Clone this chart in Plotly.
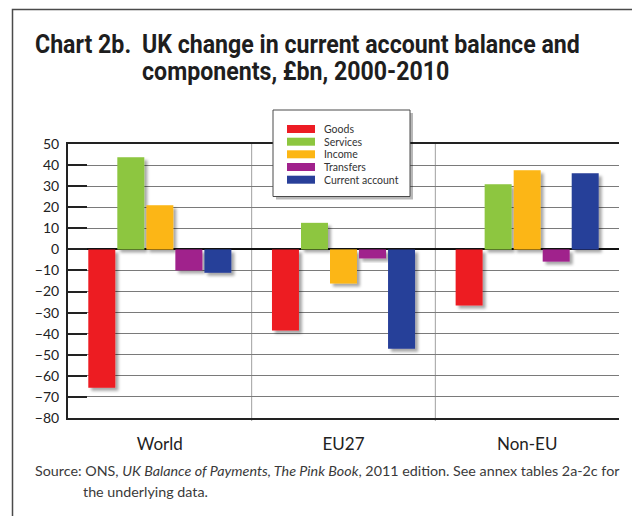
import plotly.graph_objects as go

# Regions and components of the UK current account, change 2000-2010 (£bn)
regions = ["World", "EU27", "Non-EU"]
components = ["Goods", "Services", "Income", "Transfers", "Current account"]
goods = [-65.6, -38.5, -26.6]
services = [43.7, 12.6, 30.9]
income = [20.9, -16.2, 37.5]
transfers = [-10.0, -4.3, -5.8]
current_account = [-11.1, -47.2, 36.1]
colors = ["#ED1C24", "#8DC63F", "#FCB614", "#A0218C", "#283F99"]
y_ticks = list(range(-80, 51, 10))

series = [goods, services, income, transfers, current_account]

W, H = 632, 516
ML, MR, MT, MB = 68, 13, 144, 98
PW, PH = W - ML - MR, H - MT - MB


def px(x):
    return (x - ML) / PW


def py(y):
    return (H - MB - y) / PH


fig = go.Figure()
for name, vals, col in zip(components, series, colors):
    fig.add_trace(go.Bar(x=regions, y=vals, name=name, marker=dict(color=col, line=dict(width=0)),
                         showlegend=False))

body_font = "Lato, 'Noto Sans', sans-serif"
title_font = "Roboto, 'Liberation Sans', sans-serif"

shapes = []
# outer frame of the chart panel
shapes.append(dict(type="rect", xref="paper", yref="paper", x0=px(12.5), x1=px(700), y0=py(600), y1=py(9.5),
                   line=dict(color="#4a4a4a", width=1.5), fillcolor="rgba(0,0,0,0)", layer="below"))
# separators between regions
for b in [0.5, 1.5]:
    shapes.append(dict(type="line", xref="x", yref="paper", x0=b, x1=b, y0=py(421), y1=1,
                       line=dict(color="#a0a0a0", width=1), layer="below"))

# legend box with a soft shadow
lx0, lx1, ly0, ly1 = 273, 410, 110, 196.5
shapes.append(dict(type="rect", xref="paper", yref="paper", x0=px(lx0 + 3), x1=px(lx1 + 3), y0=py(ly1 + 3),
                   y1=py(ly0 + 3), line=dict(width=0), fillcolor="rgba(0,0,0,0.28)", layer="above"))
shapes.append(dict(type="rect", xref="paper", yref="paper", x0=px(lx0), x1=px(lx1), y0=py(ly1), y1=py(ly0),
                   line=dict(color="#4a4a4a", width=1), fillcolor="white", layer="above"))

annotations = []
row_y = [129, 141.7, 154.3, 167, 179.7]
for name, col, ry in zip(components, colors, row_y):
    shapes.append(dict(type="rect", xref="paper", yref="paper", x0=px(287), x1=px(315), y0=py(ry + 4),
                       y1=py(ry - 4), line=dict(width=0), fillcolor=col, layer="above"))
    annotations.append(dict(text=name, xref="paper", yref="paper", x=px(321.5), y=py(ry), xanchor="left",
                            yanchor="middle", showarrow=False, font=dict(family=body_font, size=10.5, color="#333")))

# title, one annotation per line
title_rows = [("Chart 2b.", 33, 44), ("UK change in current account balance and", 139.5, 44),
              ("components, £bn, 2000-2010", 139.5, 71)]
for txt, tx, ty in title_rows:
    annotations.append(dict(text="<b>" + txt + "</b>", xref="paper", yref="paper", x=px(tx), y=py(ty),
                            xanchor="left", yanchor="middle", showarrow=False,
                            font=dict(family=title_font, size=26, color="#1e1e1e")))

# source note
annotations.append(dict(text="Source: ONS, <i>UK Balance of Payments, The Pink Book</i>, 2011 edition. "
                             "See annex tables 2a-2c for",
                        xref="paper", yref="paper", x=px(33), y=py(470), xanchor="left", yanchor="middle",
                        showarrow=False, font=dict(family=body_font, size=14.3, color="#3a3a3a")))
annotations.append(dict(text="the underlying data.", xref="paper", yref="paper", x=px(81), y=py(491),
                        xanchor="left", yanchor="middle", showarrow=False,
                        font=dict(family=body_font, size=14.3, color="#3a3a3a")))

fig.update_layout(
    width=W, height=H,
    margin=dict(l=ML, r=MR, t=MT, b=MB, pad=0),
    paper_bgcolor="white", plot_bgcolor="white",
    barmode="group", bargap=0.21, bargroupgap=0.07,
    shapes=shapes, annotations=annotations,
    showlegend=False,
    xaxis=dict(showgrid=False, showline=True, linecolor="#222", linewidth=1.5, mirror=True, ticks="",
               tickfont=dict(family=body_font, size=17, color="#222"), ticklabelstandoff=10),
    yaxis=dict(range=[-80, 50], tickvals=y_ticks, showgrid=True, gridcolor="#7a7a7a", gridwidth=1,
               zeroline=True, zerolinecolor="#111", zerolinewidth=2,
               showline=True, linecolor="#222", linewidth=2,
               ticks="inside", ticklen=19, tickcolor="#222", tickwidth=1.5,
               tickfont=dict(family=body_font, size=14, color="#222"), ticklabelstandoff=4),
    yaxis2=dict(overlaying="y", side="right", range=[-80, 50], tickvals=y_ticks, showticklabels=False,
                ticks="inside", ticklen=14, tickcolor="#222", tickwidth=1.5,
                showgrid=False, zeroline=False, showline=False),
)

page_js = """
var gd = document.getElementById('{plot_id}');
var svg = gd.querySelector('svg.main-svg');
var ns = 'http://www.w3.org/2000/svg';
var defs = svg.querySelector('defs') || svg.insertBefore(document.createElementNS(ns, 'defs'), svg.firstChild);
var f = document.createElementNS(ns, 'filter');
f.setAttribute('id', 'barshade');
f.setAttribute('x', '-20%'); f.setAttribute('y', '-20%');
f.setAttribute('width', '160%'); f.setAttribute('height', '160%');
var d = document.createElementNS(ns, 'feDropShadow');
d.setAttribute('dx', '3'); d.setAttribute('dy', '3'); d.setAttribute('stdDeviation', '1.6');
d.setAttribute('flood-color', '#000'); d.setAttribute('flood-opacity', '0.35');
f.appendChild(d); defs.appendChild(f);
gd.querySelectorAll('.barlayer .point path').forEach(function (p) { p.setAttribute('filter', 'url(#barshade)'); });
// condensed look for the bold title lines
gd.querySelectorAll('.annotation-text').forEach(function (t) {
  var s = t.textContent;
  if (s.indexOf('Chart 2b') === 0 || s.indexOf('UK change') === 0 || s.indexOf('components,') === 0) {
    var b = t.getBBox();
    t.setAttribute('transform', 'translate(' + b.x + ',0) scale(0.89,1) translate(' + (-b.x) + ',0)');
  }
});
"""

fig.write_html("out.html", post_script=page_js)
